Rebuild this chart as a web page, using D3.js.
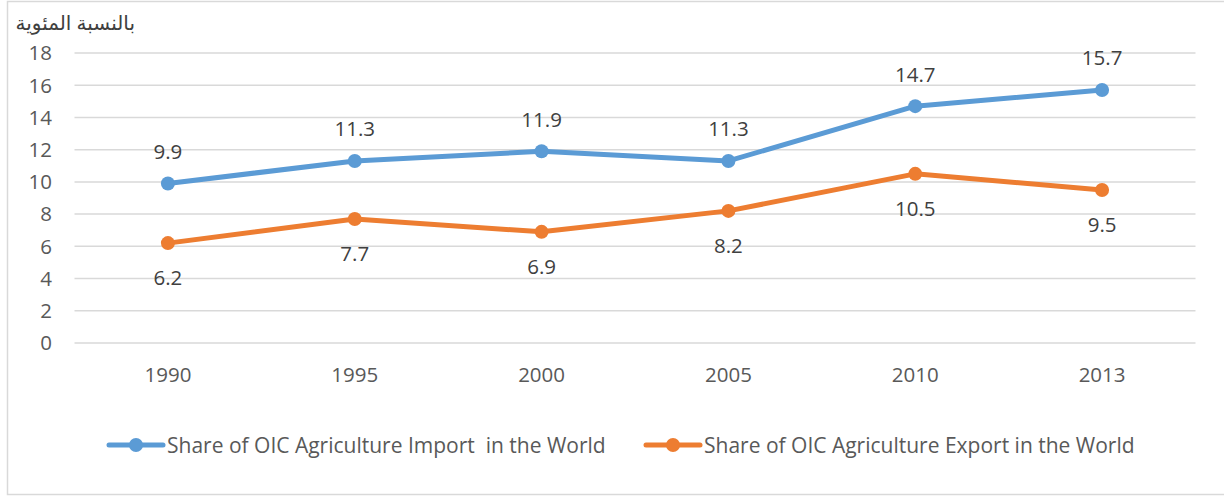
<!DOCTYPE html>
<html><head><meta charset="utf-8">
<script src="https://cdn.jsdelivr.net/npm/d3@7"></script>
<style>body{margin:0;background:#fff}svg{display:block}</style>
</head><body>
<svg id="c" width="1224" height="497"></svg>
<script>
const years = ["1990","1995","2000","2005","2010","2013"];
const importShare = [9.9, 11.3, 11.9, 11.3, 14.7, 15.7];
const exportShare = [6.2, 7.7, 6.9, 8.2, 10.5, 9.5];
const yTicks = [0,2,4,6,8,10,12,14,16,18];
const seriesNames = ["Share of OIC Agriculture Import  in the World","Share of OIC Agriculture Export in the World"];
const colors = ["#5B9BD5","#ED7D31"];
const yLabel = "بالنسبة المئوية";

const svg = d3.select("#c");
const font = "'Open Sans', 'Liberation Sans', sans-serif";
const fs = 20.5;
svg.append("rect").attr("x",7.5).attr("y",1.5).attr("width",1230).attr("height",493)
  .attr("fill","#fff").attr("stroke","#d9d9d9").attr("stroke-width",1.5);

const L=74.5, R=1195.5, T=53, B=343;
const x = d3.scaleBand().domain(years).range([L,R]);
const y = d3.scaleLinear().domain([0,18]).range([B,T]);

const g = svg.append("g");
g.selectAll("line.grid").data(yTicks).join("line")
  .attr("x1",L).attr("x2",R).attr("y1",d=>y(d)).attr("y2",d=>y(d))
  .attr("stroke","#d9d9d9").attr("stroke-width",1.5);

g.selectAll("text.yt").data(yTicks).join("text")
  .attr("x",52).attr("y",d=>y(d)).attr("dy","0.36em").attr("text-anchor","end")
  .attr("font-family",font).attr("font-size",fs).attr("fill","#595959").text(d=>d);

g.selectAll("text.xt").data(years).join("text")
  .attr("x",d=>x(d)+x.bandwidth()/2).attr("y",375).attr("dy","0.36em").attr("text-anchor","middle")
  .attr("font-family",font).attr("font-size",fs).attr("fill","#595959").text(d=>d);

svg.append("text").attr("x",135).attr("y",23).attr("dy","0.35em").attr("text-anchor","end")
  .attr("font-family","'Noto Sans', 'DejaVu Sans', sans-serif").attr("font-size",20).attr("fill","#404040")
  .text(yLabel);

const cx = d=>x(d)+x.bandwidth()/2;
const line = d3.line().x((d,i)=>cx(years[i])).y(d=>y(d));
[importShare, exportShare].forEach((vals,si)=>{
  g.append("path").datum(vals).attr("d",line).attr("fill","none")
    .attr("stroke",colors[si]).attr("stroke-width",5).attr("stroke-linejoin","round").attr("stroke-linecap","round");
  g.selectAll(null).data(vals).join("circle")
    .attr("cx",(d,i)=>cx(years[i])).attr("cy",d=>y(d)).attr("r",7).attr("fill",colors[si]);
  g.selectAll(null).data(vals).join("text")
    .attr("x",(d,i)=>cx(years[i])).attr("y",d=>y(d)+(si===0?-32:35)).attr("dy","0.36em")
    .attr("text-anchor","middle").attr("font-family",font).attr("font-size",fs).attr("fill","#404040")
    .text(d=>d.toFixed(1));
});

const legX = [109, 646];
seriesNames.forEach((n,i)=>{
  const lg = svg.append("g");
  lg.append("line").attr("x1",legX[i]).attr("x2",legX[i]+54).attr("y1",445).attr("y2",445)
    .attr("stroke",colors[i]).attr("stroke-width",5).attr("stroke-linecap","round");
  lg.append("circle").attr("cx",legX[i]+27).attr("cy",445).attr("r",7).attr("fill",colors[i]);
  lg.append("text").attr("x",legX[i]+58).attr("y",445).attr("dy","0.36em")
    .attr("font-family",font).attr("font-size",21).attr("fill","#595959")
    .attr("xml:space","preserve").style("white-space","pre").text(n);
});
</script>
</body></html>
